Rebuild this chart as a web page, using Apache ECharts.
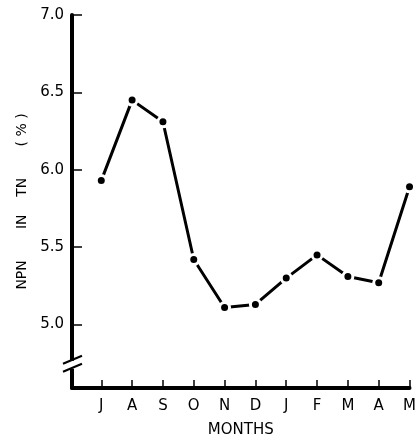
<!DOCTYPE html>
<html>
<head>
<meta charset="utf-8">
<script src="https://cdn.jsdelivr.net/npm/echarts@6/dist/echarts.min.js"></script>
<style>
  html, body { margin: 0; padding: 0; background: #fff; }
  #chart1 { width: 419px; height: 443px; }
</style>
</head>
<body>
<div id="chart1"></div>
<script>
  var months = ['J', 'A', 'S', 'O', 'N', 'D', 'J', 'F', 'M', 'A', 'M'];
  var npn = [5.93, 6.45, 6.31, 5.42, 5.11, 5.13, 5.30, 5.45, 5.31, 5.27, 5.89];
  var yTicks = [5.0, 5.5, 6.0, 6.5, 7.0];
  var xTicks = [0, 1, 2, 3, 4, 5, 6, 7, 8, 9, 10];

  var data = [];
  for (var i = 0; i < npn.length; i++) {
      data.push([i, npn[i]]);
  }

  var myChart = echarts.init(document.getElementById('chart1'));

  var option = {
      animation: false,
      textStyle: { fontFamily: 'DejaVu Sans', color: '#000' },
      grid: { left: 72, right: 7, top: 15, bottom: 52, containLabel: false },
      xAxis: {
          type: 'value',
          min: -0.95,
          max: 10,
          name: 'MONTHS',
          nameLocation: 'middle',
          nameGap: 35,
          nameTextStyle: { fontSize: 15, color: '#000' },
          splitLine: { show: false },
          axisLine: { show: true, onZero: false, lineStyle: { color: '#000', width: 4 } },
          axisTick: { show: true, inside: true, length: 8, lineStyle: { color: '#000', width: 1.5 },
                      customValues: xTicks },
          axisLabel: {
              fontSize: 15, color: '#000', margin: 11,
              customValues: xTicks,
              formatter: function (v) { return months[Math.round(v)]; }
          }
      },
      yAxis: {
          type: 'value',
          min: 4.59,
          max: 7.0,
          name: 'NPN       IN    TN       ( % )',
          nameLocation: 'middle',
          nameGap: 43,
          nameTextStyle: { fontSize: 14, color: '#000' },
          splitLine: { show: false },
          axisLine: { show: true, onZero: false, lineStyle: { color: '#000', width: 4 } },
          axisTick: { show: true, inside: true, length: 10, lineStyle: { color: '#000', width: 1.5 },
                      customValues: yTicks },
          axisLabel: {
              fontSize: 15, color: '#000', margin: 8,
              customValues: yTicks,
              formatter: function (v) { return v.toFixed(1); }
          }
      },
      series: [{
          type: 'line',
          data: data,
          symbol: 'circle',
          symbolSize: 10,
          lineStyle: { color: '#000', width: 3 },
          itemStyle: { color: '#000', borderColor: '#fff', borderWidth: 3 }
      }]
  };

  myChart.setOption(option);

  // axis break mark near the bottom of the y axis
  var p = myChart.convertToPixel({ gridIndex: 0 }, [-0.95, 4.74]);
  myChart.setOption({
      graphic: [
          { type: 'rect', shape: { x: p[0] - 4, y: p[1] - 4, width: 8, height: 8 }, style: { fill: '#fff' }, z: 100 },
          { type: 'line', shape: { x1: p[0] - 9, y1: p[1] - 1, x2: p[0] + 10, y2: p[1] - 9 }, style: { stroke: '#000', lineWidth: 2 }, z: 101 },
          { type: 'line', shape: { x1: p[0] - 9, y1: p[1] + 7, x2: p[0] + 10, y2: p[1] - 1 }, style: { stroke: '#000', lineWidth: 2 }, z: 101 }
      ]
  });
</script>
</body>
</html>
